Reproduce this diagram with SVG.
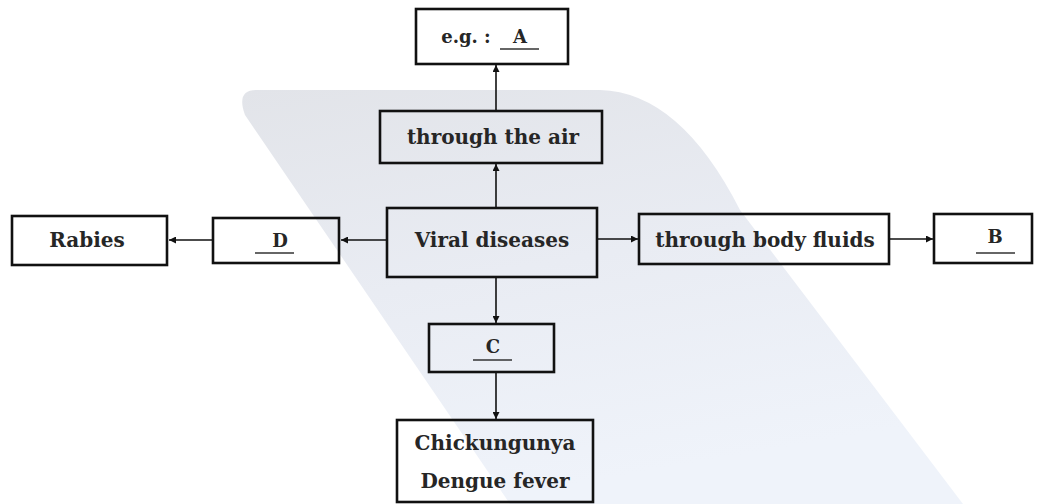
<svg xmlns="http://www.w3.org/2000/svg" width="1047" height="504" viewBox="0 0 1047 504">
<defs>
<linearGradient id="wm" x1="0" y1="0" x2="0.3" y2="1">
<stop offset="0" stop-color="#e2e4e9"/>
<stop offset="0.5" stop-color="#e9ecf3"/>
<stop offset="1" stop-color="#eff3fa"/>
</linearGradient>
<marker id="ah" viewBox="0 0 10 10" refX="10" refY="5" markerWidth="8" markerHeight="7" markerUnits="userSpaceOnUse" orient="auto">
<path d="M0,0 L10,5 L0,10 z" fill="#111"/>
</marker>
<style>
.box{fill:none;stroke:#111;stroke-width:2.6}
.t{font-family:"DejaVu Serif","Liberation Serif",serif;font-weight:bold;font-size:20px;fill:#262626;text-anchor:middle}
.s{font-size:18px}
.u{stroke:#333;stroke-width:1.6}
.c{stroke:#111;stroke-width:1.6;fill:none;marker-end:url(#ah)}
</style>
</defs>
<rect width="1047" height="504" fill="#fff"/>
<path id="watermark" d="M256,90 L600,90 Q680,92 740,210 L963,504 L510,504 L245,115 Q236,90 256,90 Z" fill="url(#wm)"/>
<g id="connectors">
<line class="c" x1="496" y1="208" x2="496" y2="164"/>
<line class="c" x1="496" y1="111" x2="496" y2="65"/>
<line class="c" x1="387" y1="240" x2="341" y2="240"/>
<line class="c" x1="213" y1="240" x2="169" y2="240"/>
<line class="c" x1="597" y1="239" x2="638" y2="239"/>
<line class="c" x1="889" y1="239" x2="933" y2="239"/>
<line class="c" x1="496" y1="277" x2="496" y2="323"/>
<line class="c" x1="496" y1="372" x2="496" y2="419"/>
</g>
<g id="node-eg">
<rect class="box" x="416" y="9" width="152" height="55"/>
<text class="t s" x="466" y="43">e.g. :</text>
<text class="t s" x="520" y="43">A</text>
<line class="u" x1="500" y1="49" x2="539" y2="49"/>
</g>
<g id="node-air">
<rect class="box" x="380" y="111" width="222" height="52"/>
<text class="t" x="493" y="144">through the air</text>
</g>
<g id="node-viral">
<rect class="box" x="387" y="208" width="210" height="69"/>
<text class="t" x="492" y="247">Viral diseases</text>
</g>
<g id="node-fluids">
<rect class="box" x="639" y="214" width="250" height="50"/>
<text class="t" x="765" y="247">through body fluids</text>
</g>
<g id="node-b">
<rect class="box" x="934" y="214" width="98" height="49"/>
<text class="t s" x="995" y="243">B</text>
<line class="u" x1="976" y1="253" x2="1015" y2="253"/>
</g>
<g id="node-d">
<rect class="box" x="213" y="218" width="126" height="45"/>
<text class="t s" x="280" y="247">D</text>
<line class="u" x1="255" y1="253" x2="294" y2="253"/>
</g>
<g id="node-rabies">
<rect class="box" x="12" y="216" width="155" height="49"/>
<text class="t" x="87" y="247">Rabies</text>
</g>
<g id="node-c">
<rect class="box" x="429" y="324" width="125" height="48"/>
<text class="t s" x="493" y="353">C</text>
<line class="u" x1="473" y1="360" x2="512" y2="360"/>
</g>
<g id="node-chik">
<rect class="box" x="397" y="420" width="196" height="82"/>
<text class="t" x="495" y="450">Chickungunya</text>
<text class="t" x="495" y="488">Dengue fever</text>
</g>
</svg>
